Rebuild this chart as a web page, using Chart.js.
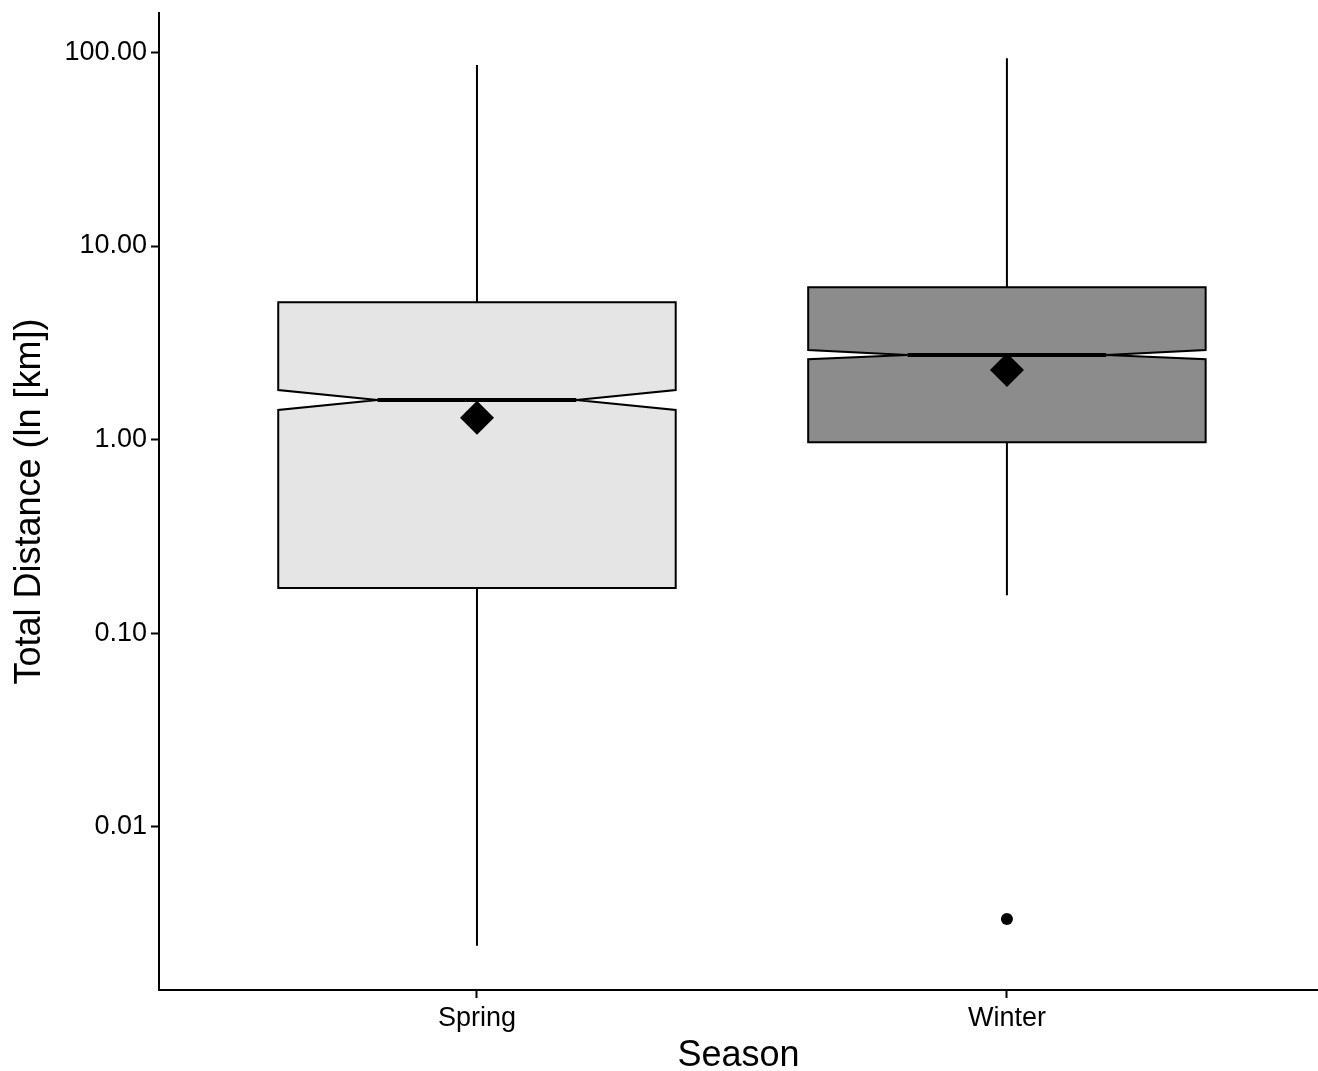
<!DOCTYPE html>
<html>
<head>
<meta charset="utf-8">
<script src="https://cdn.jsdelivr.net/npm/chart.js@4/dist/chart.umd.min.js"></script>
<style>
  html, body { margin: 0; padding: 0; background: #ffffff; overflow: hidden; }
  #wrap { width: 1318px; height: 1071px; position: relative; }
</style>
</head>
<body>
<div id="wrap"><canvas id="c"></canvas></div>
<script>
// ---- Data ----
const categories   = ['Spring', 'Winter'];
const whiskerLow   = [0.00243, 0.157];
const q1           = [0.171, 0.968];
const median       = [1.60, 2.735];
const q3           = [5.12, 6.12];
const whiskerHigh  = [86.1, 93.2];
const notchLow     = [1.422, 2.599];
const notchHigh    = [1.804, 2.903];
const means        = [1.297, 2.288];
const outliers     = [[], [0.00334]];
const boxFills     = ['#E5E5E5', '#8C8C8C'];

const yTickValues  = [0.01, 0.1, 1, 10, 100];
const yTickLabels  = ['0.01', '0.10', '1.00', '10.00', '100.00'];
const yTitle       = 'Total Distance (ln [km])';
const xTitle       = 'Season';

const FONT = '"Liberation Sans", Arial, Helvetica, sans-serif';
const BOX_WIDTH = 0.75;   // in category units
const NOTCH_WIDTH = 0.5;  // fraction of box width

const meanPoints = means.map((m, i) => ({ x: i + 1, y: m }));
const outlierPoints = [];
outliers.forEach((arr, i) => arr.forEach(v => outlierPoints.push({ x: i + 1, y: v })));

const boxPlugin = {
  id: 'notchedBoxes',
  beforeDatasetsDraw(chart) {
    const { ctx, chartArea, scales: { x, y } } = chart;
    ctx.save();
    ctx.beginPath();
    ctx.rect(chartArea.left, chartArea.top, chartArea.right - chartArea.left, chartArea.bottom - chartArea.top);
    ctx.clip();
    categories.forEach((cat, i) => {
      const c = x.getPixelForValue(i + 1);
      const l = x.getPixelForValue(i + 1 - BOX_WIDTH / 2);
      const r = x.getPixelForValue(i + 1 + BOX_WIDTH / 2);
      const nl = x.getPixelForValue(i + 1 - BOX_WIDTH * NOTCH_WIDTH / 2);
      const nr = x.getPixelForValue(i + 1 + BOX_WIDTH * NOTCH_WIDTH / 2);
      const yQ1 = y.getPixelForValue(q1[i]);
      const yQ3 = y.getPixelForValue(q3[i]);
      const yMed = y.getPixelForValue(median[i]);
      const yNL = y.getPixelForValue(notchLow[i]);
      const yNH = y.getPixelForValue(notchHigh[i]);
      const yWL = y.getPixelForValue(whiskerLow[i]);
      const yWH = y.getPixelForValue(whiskerHigh[i]);

      ctx.strokeStyle = '#000000';
      ctx.lineWidth = 2;
      ctx.lineCap = 'butt';
      // whiskers
      ctx.beginPath();
      ctx.moveTo(c, yQ3); ctx.lineTo(c, yWH);
      ctx.moveTo(c, yQ1); ctx.lineTo(c, yWL);
      ctx.stroke();

      // notched box
      ctx.beginPath();
      ctx.moveTo(l, yQ3);
      ctx.lineTo(r, yQ3);
      ctx.lineTo(r, yNH);
      ctx.lineTo(nr, yMed);
      ctx.lineTo(r, yNL);
      ctx.lineTo(r, yQ1);
      ctx.lineTo(l, yQ1);
      ctx.lineTo(l, yNL);
      ctx.lineTo(nl, yMed);
      ctx.lineTo(l, yNH);
      ctx.closePath();
      ctx.fillStyle = boxFills[i];
      ctx.fill();
      ctx.lineJoin = 'miter';
      ctx.stroke();

      // median
      ctx.beginPath();
      ctx.lineWidth = 4;
      ctx.moveTo(nl, yMed);
      ctx.lineTo(nr, yMed);
      ctx.stroke();
    });
    ctx.restore();
  }
};

const tickFont = { family: FONT, size: 27 };
const titleFont = { family: FONT, size: 36, lineHeight: 1 };

new Chart(document.getElementById('c'), {
  type: 'scatter',
  data: {
    datasets: [
      {
        label: 'Outliers',
        data: outlierPoints,
        pointStyle: 'circle',
        pointRadius: 6,
        pointBackgroundColor: '#000000',
        pointBorderWidth: 0,
        borderColor: '#000000',
        showLine: false
      },
      {
        label: 'Mean',
        data: meanPoints,
        pointStyle: 'rectRot',
        pointRadius: 17,
        pointBackgroundColor: '#000000',
        pointBorderWidth: 0,
        borderColor: '#000000',
        showLine: false
      }
    ]
  },
  options: {
    responsive: true,
    maintainAspectRatio: false,
    animation: false,
    devicePixelRatio: 1,
    layout: { autoPadding: false, padding: { top: 13, left: 0, right: 0, bottom: 0 } },
    plugins: {
      legend: { display: false },
      tooltip: { enabled: false }
    },
    scales: {
      x: {
        type: 'linear',
        min: 0.4,
        max: 2.587,
        afterBuildTicks: s => { s.ticks = categories.map((c, i) => ({ value: i + 1 })); },
        afterFit: s => { s.height = 81; s.paddingLeft = 0; s.paddingRight = 0; },
        ticks: {
          callback: v => categories[Math.round(v) - 1],
          font: tickFont,
          color: '#000000',
          padding: 4,
          autoSkip: false,
          maxRotation: 0
        },
        grid: { drawOnChartArea: false, drawTicks: true, tickLength: 8, tickColor: '#000000', tickWidth: 2 },
        border: { display: true, color: '#000000', width: 2 },
        title: { display: true, text: xTitle, font: titleFont, color: '#000000', padding: { top: 0, bottom: -3 } }
      },
      y: {
        type: 'logarithmic',
        min: 0.001435,
        max: 159.8,
        afterBuildTicks: s => { s.ticks = yTickValues.map(v => ({ value: v })); },
        afterFit: s => { s.width = 159; s.paddingTop = 0; s.paddingBottom = 0; },
        ticks: {
          callback: v => yTickLabels[yTickValues.indexOf(v)],
          font: tickFont,
          color: '#000000',
          padding: 4,
          autoSkip: false
        },
        grid: { drawOnChartArea: false, drawTicks: true, tickLength: 8, tickColor: '#000000', tickWidth: 2 },
        border: { display: true, color: '#000000', width: 2 },
        title: { display: true, text: yTitle, font: titleFont, color: '#000000', padding: { top: 12, bottom: 0 } }
      }
    }
  },
  plugins: [boxPlugin]
});
</script>
</body>
</html>
